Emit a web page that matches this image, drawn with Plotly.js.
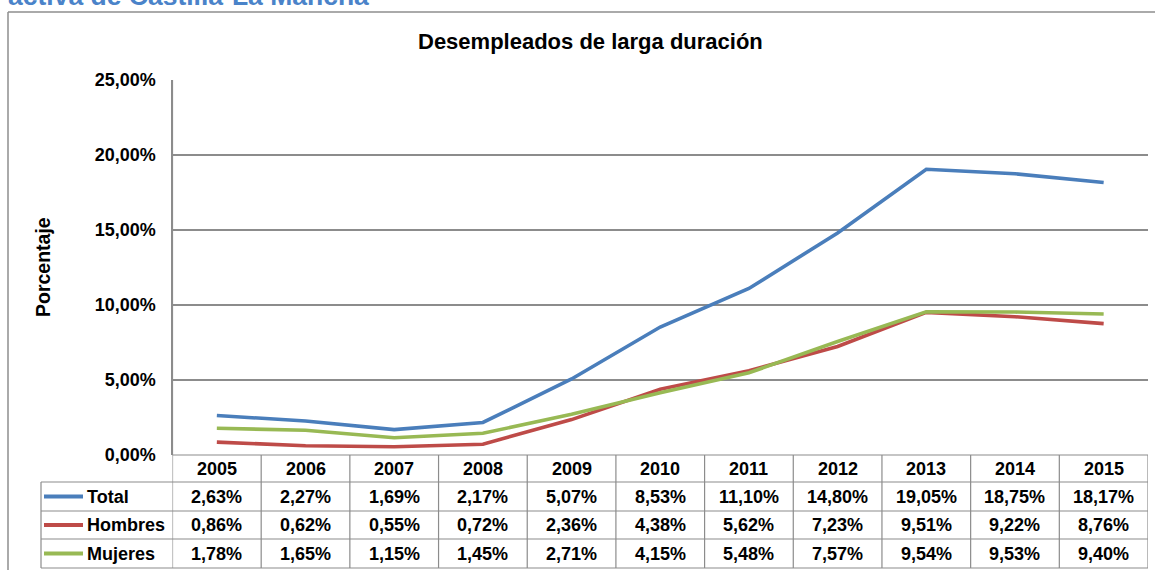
<!DOCTYPE html>
<html><head><meta charset="utf-8">
<script src="https://cdn.plot.ly/plotly-3.0.1.min.js"></script>
<style>html,body{margin:0;padding:0;background:#fff;overflow:hidden}</style>
</head><body><div id="chart" style="width:1155px;height:570px"></div>
<script>
const years = ['2005','2006','2007','2008','2009','2010','2011','2012','2013','2014','2015'];
const seriesNames = ['Total','Hombres','Mujeres'];
const total   = [2.63, 2.27, 1.69, 2.17, 5.07, 8.53, 11.10, 14.80, 19.05, 18.75, 18.17];
const hombres = [0.86, 0.62, 0.55, 0.72, 2.36, 4.38, 5.62, 7.23, 9.51, 9.22, 8.76];
const mujeres = [1.78, 1.65, 1.15, 1.45, 2.71, 4.15, 5.48, 7.57, 9.54, 9.53, 9.40];
const yTickVals = [0, 5, 10, 15, 20, 25];
const chartTitle = 'Desempleados de larga duración';
const yTitle = 'Porcentaje';
const topText = 'activa de Castilla-La Mancha';

const W = 1155, H = 570;
const px = x => x / W;
const py = y => 1 - y / H;
const FONT = 'Liberation Sans, Arial, sans-serif';
const colors = ['#4A7EBB', '#BE4B48', '#98B954'];
const gridCol = '#8C8C8C';
const seriesData = [total, hombres, mujeres];
const fmt = v => v.toFixed(2).replace('.', ',') + '%';

// geometry (pixels)
const plotL = 172.5, plotR = 1148, plotT = 80, plotB = 455;
const rowLines = [455, 482, 511, 539, 568];
const legendL = 41;

const traces = seriesData.map((d, i) => ({
  type: 'scatter', mode: 'lines', x: years, y: d, name: seriesNames[i],
  line: {color: colors[i], width: 3.6}, hoverinfo: 'skip', showlegend: false
}));

const shapes = [];
const annotations = [];
// outer frame
shapes.push({type:'line', xref:'paper', yref:'paper', x0:px(8), x1:px(1170), y0:py(12), y1:py(12), line:{color:'#8E8E8E', width:1.5}});
shapes.push({type:'line', xref:'paper', yref:'paper', x0:px(8), x1:px(8), y0:py(12), y1:py(580), line:{color:'#8E8E8E', width:1.5}});
// table horizontal lines
rowLines.forEach((r, k) => {
  shapes.push({type:'line', xref:'paper', yref:'paper', x0: k === 0 ? px(plotL) : px(legendL), x1: px(plotR), y0: py(r), y1: py(r), line:{color:gridCol, width:1.2}});
});
// table vertical lines (column boundaries follow x-axis categories)
for (let i = 0; i <= years.length; i++) {
  shapes.push({type:'line', xref:'x', yref:'paper', x0: i - 0.5, x1: i - 0.5, y0: py(i === 0 ? plotT : plotB), y1: py(rowLines[4]), line:{color:gridCol, width:1.2}});
}
shapes.push({type:'line', xref:'paper', yref:'paper', x0:px(legendL), x1:px(legendL), y0:py(rowLines[1]), y1:py(rowLines[4]), line:{color:gridCol, width:1.2}});

const cellFont = {family: FONT, size: 18, color: '#000', weight: 'bold'};
// header
years.forEach((yr, i) => {
  annotations.push({xref:'x', yref:'paper', x: i, y: py((rowLines[0] + rowLines[1]) / 2), text: yr, showarrow:false, font: cellFont, xanchor:'center', yanchor:'middle'});
});
// rows
seriesData.forEach((d, s) => {
  const yc = (rowLines[s + 1] + rowLines[s + 2]) / 2;
  d.forEach((v, i) => {
    annotations.push({xref:'x', yref:'paper', x: i, y: py(yc), text: fmt(v), showarrow:false, font: cellFont, xanchor:'center', yanchor:'middle'});
  });
  shapes.push({type:'line', xref:'paper', yref:'paper', x0:px(44), x1:px(83), y0:py(yc), y1:py(yc), line:{color: colors[s], width: 4}});
  annotations.push({xref:'paper', yref:'paper', x: px(85), y: py(yc), text: seriesNames[s], showarrow:false, font: cellFont, xanchor:'left', yanchor:'middle'});
});
// titles
annotations.push({xref:'paper', yref:'paper', x: px(591), y: py(41), text: chartTitle, showarrow:false, font:{family: FONT, size: 22, color:'#000', weight:'bold'}, xanchor:'center', yanchor:'middle'});
annotations.push({xref:'paper', yref:'paper', x: px(43), y: py(267), text: yTitle, textangle: -90, showarrow:false, font:{family: FONT, size: 19.5, color:'#000', weight:'bold'}, xanchor:'center', yanchor:'middle'});
annotations.push({xref:'paper', yref:'paper', x: px(6), y: py(-4), text: topText, showarrow:false, font:{family: FONT, size: 26.5, color:'#4A83C9', weight:'bold'}, xanchor:'left', yanchor:'middle'});

const layout = {
  width: W, height: H, margin: {l:0, r:0, t:0, b:0},
  paper_bgcolor: '#fff', plot_bgcolor: 'rgba(0,0,0,0)',
  showlegend: false,
  xaxis: {type:'category', categoryorder:'array', categoryarray: years, range:[-0.5, years.length - 0.5],
          domain:[px(plotL), px(plotR)], showticklabels:false, showgrid:false, zeroline:false, showline:false, ticks:''},
  yaxis: {range:[0, 25], domain:[py(plotB), py(plotT)], tickmode:'array', tickvals: yTickVals, ticktext: yTickVals.map(fmt),
          showgrid:true, gridcolor: gridCol, gridwidth: 1.2, zeroline:false, showline:true, linecolor: gridCol, linewidth: 1.2,
          ticks:'', ticklabelstandoff: 12, tickfont:{family: FONT, size: 18, color:'#000', weight:'bold'}},
  shapes: shapes, annotations: annotations
};
Plotly.newPlot('chart', traces, layout, {staticPlot: true, displayModeBar: false});
</script></body></html>
